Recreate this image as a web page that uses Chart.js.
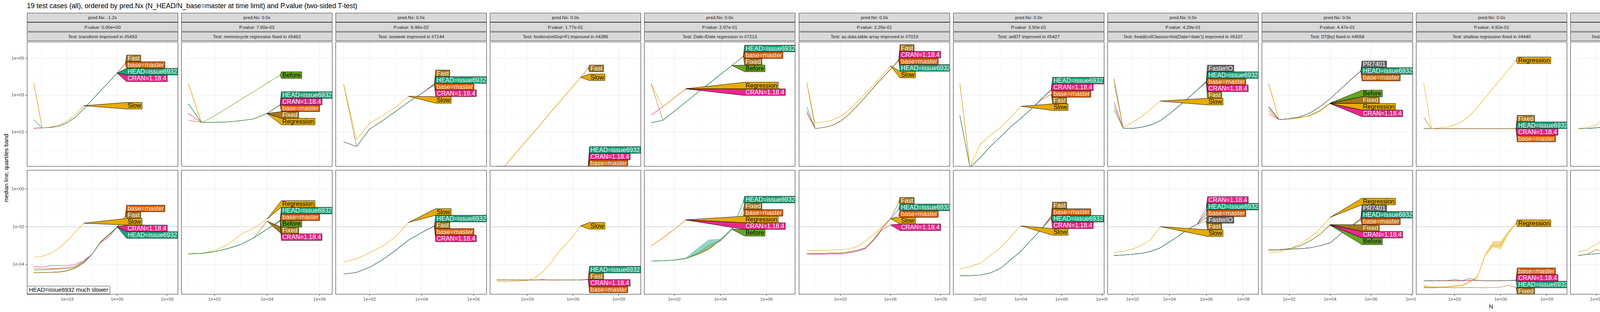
<!DOCTYPE html>
<html><head><meta charset="utf-8">
<script src="https://cdn.jsdelivr.net/npm/chart.js@4.4.1/dist/chart.umd.min.js"></script>
<style>
html,body{margin:0;padding:0;background:#fff;}
#root{position:relative;width:7600px;height:800px;overflow:hidden;font-family:"Liberation Sans",Arial,Helvetica,sans-serif;background:#fff;}
.strip{position:absolute;background:#D9D9D9;border:1px solid #333;box-sizing:border-box;color:#1A1A1A;font-size:11.7px;display:flex;align-items:center;justify-content:center;white-space:nowrap;overflow:hidden;}
.vs span{transform:rotate(90deg);white-space:nowrap;}
canvas{position:absolute;}
.txt{position:absolute;white-space:nowrap;}
</style></head><body><div id="root"></div><script>
// ---------------- DATA ----------------
const TITLE = "19 test cases (all), ordered by pred.Nx (N_HEAD/N_base=master at time limit) and P.value (two-sided T-test)";
const PRED_NX = ["-1.2x","0.0x","0.0x","0.0x","0.0x","0.0x","0.0x","0.0x","0.0x","0.0x","0.0x","0.0x","0.0x","0.0x","0.0x","0.0x","0.0x","0.0x","0.0x"];
const P_VALUE = ["0.00e+00","7.60e-03","8.46e-02","1.77e-01","2.97e-01","3.25e-01","3.50e-01","4.29e-01","4.47e-01","4.92e-01","5.66e-01","5.86e-01","6.41e-01","6.91e-01","8.41e-01","8.51e-01","8.52e-01","9.38e-01","9.51e-01"];
const TESTS = ["transform improved in #5493","memrecycle regression fixed in #5463","isoweek improved in #7144","forderv(retGrp=F) improved in #4386","Date-IDate regression in #7213","as.data.table.array improved in #7019","setDT improved in #5427","fread(colClasses=list(Date='date')) improved in #6107","DT[by] fixed in #4558","shallow regression fixed in #4440","fread(select=list(Date='date')) improved in #6107","DT[,.SD] improved in #4501","DT[by] max regression fixed in #7480","fread(colClasses=Date) improved in #6107","fwrite refactored in #5388","forderv(retGrp=T) improved in #4386","DT[by,verbose=TRUE] improved in #6296","fread disk overhead improved in #6925","melt improved in #5054"];
const UNITS = ["unit: kilobytes","unit: seconds"];
const Y_TITLE = "median line, quartiles band";
const X_TITLE = "N";
const NOTE = "HEAD=issue6932 much slower";
const XTICK_LABELS = [
 ["1e+03","1e+06","1e+09"],["1e+02","1e+04","1e+06"],["1e+02","1e+04","1e+06"],["1e+03","1e+06","1e+09"],
 ["1e+02","1e+04","1e+06"],["1e+03","1e+06","1e+09"],["1e+02","1e+04","1e+06","1e+08"],["1e+02","1e+04","1e+06","1e+08"],
 ["1e+02","1e+04","1e+06","1e+08"],["1e+03","1e+06","1e+09"],["1e+02","1e+04","1e+06","1e+08"],["1e+02","1e+04","1e+06","1e+08"],
 ["1e+02","1e+04","1e+06","1e+08"],["1e+02","1e+04","1e+06","1e+08"],["10","100","1000","10000"],["1e+03","1e+06","1e+09"],
 ["1e+02","1e+04","1e+06"],["10","100","1000"],["10","100","1000","10000"]];
const XLIM_LOG = [[0.59,9.66],[0.73,6.49],[0.69,6.51],[0.54,10.46],[0.69,7.25],[0.52,9.56],[0.67,8.1],[0.64,8.83],[0.66,8.04],[0.5,10.32],[0.55,8.94],[0.71,8.89],[0.64,8.87],[0.57,8.8],[0.83,4.12],[0.71,10.29],[0.72,6.41],[0.88,3.37],[0.83,4.13]];
const KB_YTICKS = ["1e+01","1e+03","1e+05"];
const SEC_YTICKS = ["1e-04","1e-02","1e+00"];
const KB_YLIM_LOG = [-0.863, 5.895];
const SEC_YLIM_LOG = [-5.59, 1.01];
const TIME_LIMIT = [0.01,0.01,0.01,0.01,0.01,0.01,0.01,0.01,0.01,0.01,0.01,0.01,1,0.01,0.01,0.01,0.01,0.01,0.01];

// Panel 1
const P01_N = [10,31.6,100,316,1000,3160,1e4,3.16e4,1e5,3.16e5,1e6,3.16e6];
const P01_SERIES = ["base=master","CRAN=1.18.4","Fast","HEAD=issue6932","Slow"];
const P01_KB = [
 [16.2,17,17.8,21,32,65,182,550,1700,5100,15900,51000],
 [16.2,17,17.8,21,32,65,182,550,1700,5100,15700],
 [4570,17,17.8,21,32,65,182,550,1700,5100,16000,52000],
 [48,17,17.8,21,32,65,182,550,1700,5100,15800],
 [4570,17,19,24.5,40.7,91,269]];
const P01_SEC = [
 [5.9e-5,5.9e-5,6.0e-5,6.3e-5,6.9e-5,8.3e-5,1.41e-4,3.47e-4,1.51e-3,3.72e-3,9.5e-3,3.72e-2],
 [7.8e-5,7.2e-5,8.7e-5,8.7e-5,8.7e-5,1.02e-4,1.58e-4,3.47e-4,1.45e-3,2.75e-3,1.03e-2],
 [3.7e-5,3.7e-5,3.8e-5,3.9e-5,4.6e-5,6.5e-5,1.23e-4,3.47e-4,1.58e-3,3.72e-3,9.3e-3,3.63e-2],
 [5.1e-5,5.1e-5,5.4e-5,5.75e-5,6.2e-5,7.2e-5,1.35e-4,3.47e-4,1.51e-3,3.72e-3,1.0e-2],
 [2.4e-4,2.7e-4,3.8e-4,7.1e-4,1.82e-3,5.2e-3,1.55e-2]];
// Panel 2
const P02_N = [10,31.6,100,316,1000,3160,1e4,3.16e4];
const P02_SERIES = ["base=master","CRAN=1.18.4","Fixed","Regression","Before","HEAD=issue6932"];
const P02_KB = [
 [43.7,34,34,35.5,41.7,52.5,102,295],
 [102,34,34,35.5,41.7,52.5,102,300],
 [4270,34,34,35.5,41.7,52.5,103],
 [4270,34,34,35.5,41.7,52.5,101],
 [347,31.6,76,209,575,1585,4470,12300],
 [347,34,34,35.5,41.7,52.5,102,309]];
const P02_SEC = [
 [3.7e-4,3.9e-4,4.8e-4,6.9e-4,1.15e-3,2.63e-3,7.4e-3,2.15e-2],
 [3.7e-4,3.9e-4,4.8e-4,6.9e-4,1.15e-3,2.63e-3,7.4e-3,1.95e-2],
 [3.7e-4,3.9e-4,4.8e-4,6.9e-4,1.15e-3,2.63e-3,2.0e-2],
 [3.47e-4,3.9e-4,5.6e-4,1.12e-3,3.98e-3,8.3e-3,2.57e-2],
 [3.7e-4,3.9e-4,4.8e-4,6.9e-4,1.15e-3,2.63e-3,7.4e-3,2.05e-2],
 [3.7e-4,3.9e-4,4.8e-4,6.9e-4,1.15e-3,2.63e-3,7.4e-3,2.2e-2]];
// Panel 3
const P03_N = [10,31.6,100,316,1000,3160,1e4,3.16e4];
const P03_SERIES = ["base=master","CRAN=1.18.4","Fast","HEAD=issue6932","Slow"];
const P03_KB = [
 [3.02,1.66,14.5,41.7,132,427,1230,3800],
 [3.02,1.66,14.5,41.7,132,427,1230,3630],
 [3980,1.66,14.5,41.7,132,427,1230,4270],
 [3.02,1.66,14.5,41.7,132,427,1230,3980],
 [3980,3.98,30.2,77.6,224,871]];
const P03_SEC = [
 [3.09e-5,3.8e-5,7.1e-5,1.78e-4,5.6e-4,1.95e-3,4.9e-3,1.1e-2],
 [3.09e-5,3.8e-5,7.1e-5,1.78e-4,5.6e-4,1.95e-3,4.9e-3,1.08e-2],
 [3.09e-5,3.8e-5,7.1e-5,1.78e-4,5.6e-4,1.95e-3,4.9e-3,1.12e-2],
 [3.09e-5,3.8e-5,7.1e-5,1.78e-4,5.6e-4,1.95e-3,4.9e-3,1.15e-2],
 [1.32e-4,2.0e-4,4.1e-4,9.3e-4,2.95e-3,1.7e-2]];
// Panel 4
const P04_N = [10,31.6,100,316,1000,3160,1e4,3.16e4,1e5,3.16e5,1e6,3.16e6,1e7];
const P04_SERIES = ["base=master","CRAN=1.18.4","HEAD=issue6932","Fast","Slow"];
const P04_KB = [
 [0.14,0.14,0.14,0.14,0.14,0.14,0.14,0.14,0.14,0.14,0.14,0.14,0.14],
 [0.141,0.141,0.141,0.141,0.141,0.141,0.141,0.141,0.141,0.141,0.141,0.141,0.141],
 [0.142,0.142,0.142,0.142,0.142,0.142,0.142,0.142,0.142,0.142,0.142,0.142,0.142],
 [0.047,0.141,0.427,1.29,3.89,11.7,36.3,110,331,1000,3020,9330,28200],
 [0.047,0.141,0.427,1.29,3.89,11.7,36.3,110,331,1000,3020,9330]];
const P04_SEC = [
 [1.5e-5,1.55e-5,1.5e-5,1.52e-5,1.5e-5,1.55e-5,1.5e-5,1.52e-5,1.5e-5,1.55e-5,1.5e-5,1.52e-5,1.56e-5],
 [1.52e-5,1.5e-5,1.55e-5,1.5e-5,1.52e-5,1.5e-5,1.55e-5,1.5e-5,1.52e-5,1.5e-5,1.55e-5,1.5e-5,1.58e-5],
 [1.55e-5,1.52e-5,1.5e-5,1.55e-5,1.5e-5,1.52e-5,1.6e-5,1.5e-5,1.55e-5,1.52e-5,1.5e-5,1.55e-5,1.62e-5],
 [1.5e-5,1.5e-5,1.52e-5,1.5e-5,1.55e-5,1.5e-5,1.52e-5,1.55e-5,1.5e-5,1.52e-5,1.55e-5,1.5e-5,1.6e-5],
 [1.26e-5,1.2e-5,1.26e-5,1.32e-5,1.41e-5,2.0e-5,3.98e-5,1.12e-4,3.98e-4,1.12e-3,3.16e-3,1.12e-2]];
// Panel 5
const P05_N = [10,31.6,100,316,1000,3160,1e4,3.16e4,1e5];
const P05_SERIES = ["CRAN=1.18.4","Regression","base=master","Fixed","Before","HEAD=issue6932"];
const P05_KB = [
 [85,234,724,2190],
 [3980,234,724,2240],
 [32.4,43.7,135,427,1350,4170,13200,40700,130000],
 [3980,43.7,135,427,1350,4170,13200,40700,129000],
 [32.4,43.7,135,427,1350,4170,13200,40700],
 [32.4,43.7,135,427,1350,4170,13200,40700,132000]];
const P05_SEC = [
 [9.8e-4,2.57e-3,7.4e-3,2.29e-2],
 [9.8e-4,2.57e-3,7.4e-3,2.34e-2],
 [1.51e-4,1.58e-4,1.7e-4,2.09e-4,3.31e-4,6.9e-4,1.95e-3,7.4e-3,3.98e-2],
 [1.51e-4,1.58e-4,1.7e-4,2.09e-4,3.31e-4,6.3e-4,1.95e-3,7.4e-3,7.4e-2],
 [1.51e-4,1.58e-4,1.7e-4,2.09e-4,3.55e-4,7.9e-4,1.78e-3,7.4e-3],
 [1.51e-4,1.58e-4,1.7e-4,2.09e-4,3.98e-4,1.0e-3,1.95e-3,7.4e-3,0.209]];
// Panel 6
const P06_N = [10,31.6,100,316,1000,3160,1e4,3.16e4,1e5,3.16e5,1e6,3.16e6];
const P06_SERIES = ["base=master","CRAN=1.18.4","HEAD=issue6932","Fast","Slow"];
const P06_KB = [
 [105,15.5,17.8,22.9,38,89,257,813,2630,8320,25100,77600],
 [135,15.5,17.8,22.9,38,89,257,813,2630,8320,25100,79400],
 [229,15.5,17.8,22.9,38,89,257,813,2630,8320,25100,75900],
 [4680,15.5,17.8,22.9,38,89,257,813,2630,8320,25100,83200],
 [4680,31.6,35.5,43.7,70.8,148,427,1260,3800,11500,38900]];
const P06_SEC = [
 [3.9e-4,3.9e-4,3.9e-4,3.98e-4,3.98e-4,4.6e-4,5.6e-4,7.6e-4,2.14e-3,8.3e-3,2.57e-2,3.9e-2],
 [3.47e-4,3.5e-4,3.5e-4,3.55e-4,3.55e-4,4.1e-4,5.0e-4,6.9e-4,1.9e-3,7.1e-3,1.26e-2],
 [3.9e-4,3.9e-4,3.9e-4,3.98e-4,3.98e-4,4.6e-4,5.6e-4,7.6e-4,2.14e-3,8.3e-3,2.57e-2,8.9e-2],
 [3.9e-4,3.9e-4,3.9e-4,3.98e-4,3.98e-4,4.6e-4,5.6e-4,7.6e-4,2.14e-3,8.3e-3,2.57e-2,0.209],
 [5.5e-4,5.6e-4,5.6e-4,5.75e-4,6.2e-4,6.6e-4,8.9e-4,1.74e-3,3.98e-3,1.0e-2,2.69e-2]];
// Panel 7
const P07_N = [10,31.6,100,316,1000,3160,1e4,3.16e4,1e5,3.16e5];
const P07_SERIES = ["base=master","CRAN=1.18.4","Fast","HEAD=issue6932","Slow"];
const P07_KB = [
 [79.4,0.126,0.407,1.66,5.62,19.5,56.2,174,617,1900],
 [79.4,0.126,0.407,1.66,5.62,19.5,56.2,174,617,2000],
 [4270,0.126,0.407,1.66,5.62,19.5,56.2,174,560,1120],
 [79.4,0.126,0.407,1.66,5.62,19.5,56.2,174,617,2090],
 [4270,0.126,2.14,6.76,17.8,63,251]];
const P07_SEC = [
 [2.51e-5,2.57e-5,2.75e-5,3.55e-5,6.3e-5,1.78e-4,5.0e-4,1.95e-3,7.4e-3,3.55e-2],
 [2.51e-5,2.57e-5,2.75e-5,3.55e-5,6.3e-5,1.78e-4,5.0e-4,1.95e-3,7.4e-3,2.82e-2],
 [2.51e-5,2.57e-5,2.75e-5,3.55e-5,6.3e-5,1.78e-4,5.0e-4,1.95e-3,7.4e-3,3.98e-2],
 [2.51e-5,2.57e-5,2.75e-5,3.55e-5,6.3e-5,1.78e-4,5.0e-4,1.95e-3,7.4e-3,3.16e-2],
 [5.75e-5,7.8e-5,1.17e-4,3.0e-4,7.6e-4,2.95e-3,1.12e-2]];
// Panel 8
const P08_N = [10,31.6,100,316,1000,3160,1e4,3.16e4,1e5,3.16e5,1e6];
const P08_SERIES = ["base=master","CRAN=1.18.4","Fast","FasterIO","HEAD=issue6932","Slow"];
const P08_KB = [
 [158,15.8,15.8,18.6,24.5,41.7,97.7,251,661,1905,5300],
 [427,15.8,15.8,18.6,24.5,41.7,97.7,251,661,1905,5100],
 [4270,15.8,15.8,18.6,24.5,41.7,97.7,251,661,1905,4900],
 [7590,15.8,15.8,18.6,24.5,41.7,97.7,251,661,1905,5750],
 [251,15.8,15.8,18.6,24.5,41.7,97.7,251,661,1905,5500],
 [4270,17.8,33.9,70.8,182,479]];
const P08_SEC = [
 [3.0e-4,3.16e-4,3.47e-4,3.9e-4,5.0e-4,7.6e-4,1.58e-3,3.24e-3,7.4e-3,1.38e-2,4.5e-2],
 [3.0e-4,3.16e-4,3.47e-4,3.9e-4,5.0e-4,7.6e-4,1.58e-3,3.24e-3,7.4e-3,1.38e-2,0.1],
 [3.0e-4,3.16e-4,3.47e-4,3.9e-4,5.0e-4,7.6e-4,1.58e-3,3.24e-3,7.4e-3,1.38e-2,2.0e-2],
 [3.0e-4,3.16e-4,3.47e-4,3.9e-4,5.0e-4,7.6e-4,1.58e-3,3.24e-3,7.4e-3,1.38e-2,3.16e-2],
 [3.0e-4,3.16e-4,3.47e-4,3.9e-4,5.0e-4,7.6e-4,1.58e-3,3.24e-3,7.4e-3,1.38e-2,6.3e-2],
 [4.3e-4,5.0e-4,6.5e-4,1.05e-3,2.14e-3,1.02e-2]];
// Panel 9
const P09_N = [10,31.6,100,316,1000,3160,1e4,3.16e4,1e5,3.16e5];
const P09_SERIES = ["CRAN=1.18.4","Fixed","Before","Regression","base=master","HEAD=issue6932","PR7401"];
const P09_KB = [
 [95.5,47.9,51.3,60.3,79.4,148,347],
 [4270,47.9,51.3,60.3,79.4,148,363],
 [200,47.9,51.3,60.3,79.4,148,372],
 [4270,47.9,51.3,60.3,75.9,132,355],
 [141,47.9,53.7,66,107,234,646,2090,6760,20000],
 [240,47.9,53.7,66,107,234,646,2090,6760,20400],
 [240,47.9,53.7,66,107,234,646,2090,6760,20900]];
const P09_SEC = [
 [5.6e-4,5.75e-4,6.9e-4,9.3e-4,1.74e-3,3.98e-3,1.26e-2],
 [5.6e-4,5.75e-4,6.9e-4,9.3e-4,1.74e-3,3.98e-3,1.3e-2],
 [5.6e-4,5.75e-4,6.9e-4,9.3e-4,1.74e-3,3.98e-3,1.22e-2],
 [4.3e-4,4.6e-4,6.5e-4,1.15e-3,2.57e-3,7.4e-3,3.16e-2],
 [6.3e-4,6.3e-4,6.5e-4,6.9e-4,7.6e-4,9.8e-4,1.41e-3,3.98e-3,1.02e-2,2.24e-2],
 [6.3e-4,6.3e-4,6.5e-4,6.9e-4,7.6e-4,9.8e-4,1.41e-3,3.98e-3,1.02e-2,2.51e-2],
 [6.3e-4,6.3e-4,6.5e-4,6.9e-4,7.6e-4,9.8e-4,1.41e-3,3.98e-3,1.02e-2,2.82e-2]];
// Panel 10
const P10_N = [10,31.6,100,316,1000,3160,1e4,3.16e4,1e5,3.16e5,1e6,3.16e6,1e7];
const P10_SERIES = ["base=master","CRAN=1.18.4","HEAD=issue6932","Fixed","Regression"];
const P10_KB = [
 [15.5,15.5,15.5,15.5,15.5,15.5,15.5,15.5,15.5,15.5,15.5,15.5,15.3],
 [15.5,15.5,15.5,15.5,15.5,15.5,15.5,15.5,15.5,15.5,15.5,15.5,15.4],
 [15.5,15.5,15.5,15.5,15.5,15.5,15.5,15.5,15.5,15.5,15.5,15.5,15.6],
 [63,15.5,15.5,15.5,15.5,15.5,15.5,15.5,15.5,15.5,15.5,15.5,15.8],
 [4270,15.5,17,18.6,24.5,37.2,79.4,229,724,2340,7410,24000,77600]];
const P10_SEC = [
 [1.35e-5,1.38e-5,1.35e-5,1.4e-5,1.35e-5,1.38e-5,1.45e-5,1.4e-5,1.35e-5,1.38e-5,1.4e-5,1.42e-5,1.5e-5],
 [1.38e-5,1.35e-5,1.4e-5,1.35e-5,1.38e-5,1.35e-5,1.4e-5,1.45e-5,1.38e-5,1.35e-5,1.38e-5,1.4e-5,1.45e-5],
 [1.35e-5,1.4e-5,1.35e-5,1.38e-5,1.6e-5,1.4e-5,1.8e-5,1.45e-5,1.35e-5,1.38e-5,1.35e-5,1.38e-5,1.4e-5],
 [5.9e-6,5.8e-6,5.9e-6,6.0e-6,5.8e-6,5.9e-6,6.0e-6,5.9e-6,5.8e-6,6.0e-6,6.3e-6,7.9e-6,6.0e-6],
 [6.5e-6,6.2e-6,6.3e-6,6.5e-6,7.2e-6,7.9e-6,1.2e-5,2.24e-5,3.3e-4,1.05e-3,1.0e-3,4.9e-3,1.55e-2]];
// Panel 11
const P11_N = [10,31.6,100,316,1000,3160,1e4,3.16e4,1e5,3.16e5,1e6];
const P11_SERIES = ["base=master","CRAN=1.18.4","Fast","FasterIO","HEAD=issue6932","Slow"];
const P11_KB = [
 [15.5,15.8,17,20,30.2,63,182,661,2340,7590,22900],
 [15.5,15.8,17,20,30.2,63,182,661,2340,7590,24000],
 [15.5,15.8,17,20,30.2,63,182,661,2340,7590,21900],
 [15.5,15.8,17,20,30.2,63,182,661,2340,7590,25100],
 [15.5,15.8,17,20,30.2,63,182,661,2340,7590,26300],
 [15.8,17.8,24.5,63,204,513]];
const P11_SEC = [
 [3.0e-4,3.47e-4,6.2e-4,4.3e-4,6.2e-4,1.15e-3,2.63e-3,6.0e-3,1.26e-2,2.57e-2,5.0e-2],
 [3.0e-4,3.47e-4,3.7e-4,4.3e-4,6.2e-4,1.15e-3,2.63e-3,6.0e-3,1.26e-2,2.57e-2,6.3e-2],
 [3.0e-4,3.47e-4,3.7e-4,4.3e-4,6.2e-4,1.15e-3,2.63e-3,6.0e-3,1.26e-2,2.57e-2,5.6e-2],
 [3.0e-4,3.47e-4,3.7e-4,4.3e-4,6.2e-4,1.15e-3,2.63e-3,6.0e-3,1.26e-2,2.57e-2,4.0e-2],
 [3.0e-4,3.47e-4,3.7e-4,4.3e-4,6.2e-4,1.15e-3,2.63e-3,6.0e-3,1.26e-2,2.57e-2,4.5e-2],
 [4.6e-4,6.2e-4,1.15e-3,2.63e-3,6.0e-3,1.12e-2]];
// Panel 12
const P12_N = [14,31.6,100,316,1000,3160,1e4,3.16e4,1e5,3.16e5,1e6];
const P12_SERIES = ["base=master","CRAN=1.18.4","Fast","HEAD=issue6932","Slow","Slower"];
const P12_KB = [
 [53.7,51.3,47.9,47.9,53.7,66,97.7,166,309,1000,3160],
 [53.7,51.3,47.9,47.9,53.7,66,97.7,166,309,1000,3550],
 [4270,51.3,47.9,47.9,53.7,66,97.7,166,309,1000,4170],
 [166,51.3,47.9,47.9,53.7,66,97.7,166,309,1000,3800],
 [4270,51.3,47.9,47.9,53.7,66,97.7,166,309,891],
 [166,51.3,51.3,56.2,70.8,110,182,398]];
const P12_SEC = [
 [3.7e-4,3.7e-4,3.7e-4,3.8e-4,3.98e-4,4.6e-4,6.5e-4,1.15e-3,3.98e-3,1.38e-2,5.9e-2],
 [3.7e-4,3.7e-4,3.7e-4,3.8e-4,3.98e-4,4.6e-4,6.5e-4,1.15e-3,3.98e-3,1.38e-2,3.9e-2],
 [3.7e-4,3.7e-4,3.7e-4,3.8e-4,3.98e-4,4.6e-4,6.5e-4,1.15e-3,3.98e-3,1.38e-2,2.5e-2],
 [3.7e-4,3.7e-4,3.7e-4,3.8e-4,3.98e-4,4.6e-4,6.5e-4,1.15e-3,3.98e-3,1.38e-2,8.9e-2],
 [3.16e-4,3.16e-4,3.16e-4,3.3e-4,3.55e-4,3.9e-4,5.6e-4,1.15e-3,3.24e-3,1.55e-2],
 [4.8e-4,5.0e-4,5.0e-4,6.2e-4,1.05e-3,2.14e-3,4.9e-3,1.02e-2]];
// Panel 13
const P13_N = [10,31.6,100,316,1000,3160,1e4,3.16e4,1e5,3.16e5,1e6];
const P13_SERIES = ["Fixed","Before","base=master","HEAD=issue6932","CRAN=1.18.4","Regression"];
const P13_KB = [
 [4270,66,97.7,182,427,1230,3240,9330,24000,69200,200000],
 [53.7,66,97.7,182,427,1230,3240,9330,24000,69200,251000],
 [53.7,66,97.7,182,427,1230,3240,9330,24000,69200,398000],
 [53.7,66,97.7,182,427,1230,3240,9330,24000,69200,427000],
 [53.7,66,97.7,182,427,1230,3240,9330,24000,69200,457000],
 [4270,63,87,148,309,813,2090,12300]];
const P13_SEC = [
 [5.4e-4,5.6e-4,6.2e-4,8.5e-4,1.58e-3,3.98e-3,1.26e-2,3.9e-2,0.123,0.389,2.24],
 [5.4e-4,5.6e-4,6.2e-4,8.5e-4,1.58e-3,3.98e-3,1.26e-2,3.9e-2,0.123,0.389,1.26],
 [5.4e-4,5.6e-4,6.2e-4,8.5e-4,1.58e-3,3.98e-3,1.26e-2,3.9e-2,0.123,0.389,3.16],
 [5.4e-4,5.6e-4,6.2e-4,8.5e-4,1.58e-3,3.98e-3,1.26e-2,3.9e-2,0.123,0.389,1.78],
 [5.4e-4,5.6e-4,6.2e-4,8.5e-4,1.58e-3,3.98e-3,1.26e-2,3.9e-2,0.123,0.389,1.0],
 [5.6e-4,6.2e-4,7.6e-4,1.41e-3,3.98e-3,2.57e-2,0.209,5.75]];
// Panel 14
const P14_N = [10,31.6,100,316,1000,3160,1e4,3.16e4,1e5,3.16e5,1e6];
const P14_SERIES = ["base=master","CRAN=1.18.4","Fast","FasterIO","HEAD=issue6932","Slow"];
const P14_KB = [
 [15.8,16.2,17.4,20.4,30.9,64.6,186,676,2400,7760,22400],
 [15.8,16.2,17.4,20.4,30.9,64.6,186,676,2400,7760,23400],
 [15.8,16.2,17.4,20.4,30.9,64.6,186,676,2400,7760,21400],
 [15.8,16.2,17.4,20.4,30.9,64.6,186,676,2400,7760,24500],
 [15.8,16.2,17.4,20.4,30.9,64.6,186,676,2400,7760,25700],
 [16.2,18.2,25.1,64.6,209,525]];
const P14_SEC = [
 [2.95e-4,3.39e-4,3.63e-4,4.27e-4,6.03e-4,1.12e-3,2.57e-3,5.89e-3,1.23e-2,2.51e-2,4.9e-2],
 [2.95e-4,3.39e-4,3.63e-4,4.27e-4,6.03e-4,1.12e-3,2.57e-3,5.89e-3,1.23e-2,2.51e-2,6.2e-2],
 [2.95e-4,3.39e-4,3.63e-4,4.27e-4,6.03e-4,1.12e-3,2.57e-3,5.89e-3,1.23e-2,2.51e-2,5.5e-2],
 [2.95e-4,3.39e-4,3.63e-4,4.27e-4,6.03e-4,1.12e-3,2.57e-3,5.89e-3,1.23e-2,2.51e-2,3.9e-2],
 [2.95e-4,3.39e-4,3.63e-4,4.27e-4,6.03e-4,1.12e-3,2.57e-3,5.89e-3,1.23e-2,2.51e-2,4.4e-2],
 [4.7e-4,6.3e-4,1.17e-3,2.69e-3,6.17e-3,1.15e-2]];
// Panel 15
const P15_N = [10,31.6,100,316,1000];
const P15_SERIES = ["Before","CRAN=1.18.4","base=master","HEAD=issue6932","PR"];
const P15_KB = [
 [4270,0.14,0.14,0.14,0.14],
 [0.69,0.69,0.69,0.69,0.685],
 [0.69,0.69,0.69,0.69,0.69],
 [148,0.69,0.69,0.69,0.695],
 [0.69,0.69,0.69,0.69,0.70]];
const P15_SEC = [
 [2.45e-4,3.8e-4,1.02e-3,3.9e-3,1.45e-2],
 [3.0e-4,3.9e-4,1.05e-3,3.98e-3,1.58e-2],
 [3.0e-4,3.9e-4,1.05e-3,3.98e-3,1.82e-2],
 [3.0e-4,3.9e-4,1.05e-3,3.98e-3,2.0e-2],
 [3.0e-4,3.9e-4,1.05e-3,3.98e-3,1.7e-2]];
// Panel 16
const P16_N = [10,31.6,100,316,1000,3160,1e4,3.16e4,1e5,3.16e5,1e6,3.16e6,1e7];
const P16_SERIES = ["base=master","CRAN=1.18.4","HEAD=issue6932","Fast","Slow"];
const P16_KB = [
 [0.14,0.14,0.14,0.14,0.14,0.14,0.14,0.14,0.14,0.14,0.14,0.14,0.14],
 [0.141,0.141,0.141,0.141,0.141,0.141,0.141,0.141,0.141,0.141,0.141,0.141,0.141],
 [0.142,0.142,0.142,0.142,0.142,0.142,0.142,0.142,0.142,0.142,0.142,0.142,0.142],
 [0.047,0.148,0.457,1.45,4.57,14.1,44.7,138,437,1350,4270,13200,39800],
 [0.047,0.148,0.457,1.45,4.57,14.1,44.7,138,437,1350,4270,13200]];
const P16_SEC = [
 [1.5e-5,1.52e-5,1.55e-5,1.5e-5,1.52e-5,1.5e-5,1.55e-5,1.5e-5,1.52e-5,1.55e-5,1.5e-5,1.52e-5,1.58e-5],
 [1.52e-5,1.5e-5,1.52e-5,1.55e-5,1.5e-5,1.52e-5,1.5e-5,1.55e-5,1.5e-5,1.52e-5,1.55e-5,1.5e-5,1.6e-5],
 [1.55e-5,1.5e-5,1.5e-5,1.52e-5,1.55e-5,1.5e-5,1.52e-5,1.5e-5,1.55e-5,1.5e-5,1.52e-5,1.5e-5,1.56e-5],
 [1.5e-5,1.55e-5,1.52e-5,1.5e-5,1.5e-5,1.55e-5,1.52e-5,1.52e-5,1.5e-5,1.55e-5,1.5e-5,1.55e-5,1.62e-5],
 [1.55e-5,1.48e-5,1.51e-5,1.58e-5,1.78e-5,6.3e-5,1.58e-4,3.55e-4,7.9e-4,2.24e-3,6.3e-3,1.55e-2]];
// Panel 17
const P17_N = [10,31.6,100,316,1000,3160,1e4,3.16e4];
const P17_SERIES = ["base=master","CRAN=1.18.4","HEAD=issue6932","Fast","Slow"];
const P17_KB = [
 [57.5,32.4,34.7,45.7,70.8,120,251,692],
 [57.5,32.4,34.7,45.7,70.8,120,251,631],
 [57.5,32.4,34.7,45.7,70.8,120,251,759],
 [4270,32.4,34.7,45.7,70.8,120,251,891],
 [4270,33.9,37.2,51.3,87,102]];
const P17_SEC = [
 [1.05e-3,1.1e-3,1.2e-3,1.58e-3,2.63e-3,6.0e-3,1.7e-2,5.6e-2],
 [1.05e-3,1.1e-3,1.2e-3,1.58e-3,2.63e-3,6.0e-3,1.7e-2,4.0e-2],
 [1.05e-3,1.1e-3,1.2e-3,1.58e-3,2.63e-3,6.0e-3,1.7e-2,4.5e-2],
 [1.05e-3,1.1e-3,1.2e-3,1.58e-3,2.63e-3,6.0e-3,1.7e-2,5.0e-2],
 [1.15e-3,1.2e-3,1.41e-3,2.14e-3,3.98e-3,1.02e-2]];
// Panel 18
const P18_N = [10,31.6,100,316];
const P18_SERIES = ["base=master","CRAN=1.18.4","Fast","HEAD=issue6932","Slow"];
const P18_KB = [
 [17.8,57.5,182,550],
 [17.8,57.5,182,555],
 [17.8,57.5,182,562],
 [17.8,57.5,182,575],
 [4270,57.5,182,570]];
const P18_SEC = [
 [3.7e-4,9.3e-4,2.95e-3,1.13e-2],
 [3.7e-4,9.3e-4,2.95e-3,1.1e-2],
 [3.7e-4,9.3e-4,2.95e-3,1.07e-2],
 [3.7e-4,9.3e-4,2.95e-3,1.16e-2],
 [3.8e-4,9.5e-4,3.0e-3,1.2e-2]];
// Panel 19
const P19_N = [10,31.6,100,316,1000];
const P19_SERIES = ["base=master","CRAN=1.18.4","HEAD=issue6932","Fast","Slow"];
const P19_KB = [
 [51.3,33.9,288,2450,20000],
 [51.3,33.9,288,2450,20400],
 [51.3,33.9,288,2450,20900],
 [4270,33.9,288,2450,21400],
 [4270,33.9,288,2450,21900]];
const P19_SEC = [
 [7.1e-5,1.78e-4,6.3e-4,5.0e-3,4.8e-2],
 [7.1e-5,1.78e-4,6.3e-4,5.0e-3,5.25e-2],
 [7.1e-5,1.78e-4,6.3e-4,5.0e-3,5.0e-2],
 [7.1e-5,1.78e-4,6.3e-4,5.0e-3,5.6e-2],
 [1.0e-4,2.51e-4,9.3e-4,7.9e-3,7.8e-2]];

// quartile bands (lower / upper) for a few series where they are visible
const BAND_P01_SEC_FAST_LO = [3.5e-5,3.5e-5,3.6e-5,3.7e-5,4.3e-5,6.0e-5,1.15e-4,3.2e-4,1.45e-3,3.3e-3,8.5e-3,3.3e-2];
const BAND_P01_SEC_FAST_HI = [4.0e-5,4.0e-5,4.1e-5,4.3e-5,5.2e-5,7.2e-5,1.3e-4,3.7e-4,1.75e-3,4.4e-3,1.0e-2,3.9e-2];
const BAND_P05_SEC_HEAD_LO = [1.45e-4,1.52e-4,1.62e-4,1.95e-4,3.3e-4,6.9e-4,1.78e-3,6.9e-3,0.19];
const BAND_P05_SEC_HEAD_HI = [1.58e-4,1.66e-4,1.8e-4,2.3e-4,7.4e-4,2.1e-3,2.3e-3,8.7e-3,0.23];
const BAND_P10_SEC_REG_LO = [5.6e-6,5.6e-6,5.8e-6,6.0e-6,6.6e-6,7.2e-6,1.1e-5,2.0e-5,2.8e-4,8.5e-4,6.3e-4,4.0e-3,1.45e-2];
const BAND_P10_SEC_REG_HI = [8.5e-6,7.0e-6,6.8e-6,7.0e-6,7.8e-6,8.6e-6,1.3e-5,2.5e-5,3.8e-4,1.7e-3,1.75e-3,6.0e-3,1.65e-2];
const BANDS = [
 [0,1,"Fast",BAND_P01_SEC_FAST_LO,BAND_P01_SEC_FAST_HI],
 [4,1,"HEAD=issue6932",BAND_P05_SEC_HEAD_LO,BAND_P05_SEC_HEAD_HI],
 [9,1,"Regression",BAND_P10_SEC_REG_LO,BAND_P10_SEC_REG_HI]];

const SERIES_COLORS = {"HEAD=issue6932":"#1B9E77","base=master":"#D95F02","CRAN=1.18.4":"#E7298A","Fast":"#A6761D","Slow":"#E6AB02","Before":"#66A61E","Fixed":"#A6761D","Regression":"#E6AB02","PR7401":"#666666","FasterIO":"#666666","Slower":"#666666","PR":"#666666"};
const DARK_TEXT = ["Slow","Regression","Before"];

// ---------------- LAYOUT / STYLE ----------------
const FONT = '"Liberation Sans", Arial, Helvetica, sans-serif';
const PANEL_X0 = 69, PANEL_PITCH = 395.1, PANEL_W = 387;
const ROW_TOP = [107, 436], ROW_H = [320, 319];
const GRID = "#EBEBEB";
const LABEL_FONT = "16px " + FONT;
const LABEL_H = 17;

const PANEL_DATA = [
 [P01_N,P01_SERIES,P01_KB,P01_SEC],[P02_N,P02_SERIES,P02_KB,P02_SEC],[P03_N,P03_SERIES,P03_KB,P03_SEC],
 [P04_N,P04_SERIES,P04_KB,P04_SEC],[P05_N,P05_SERIES,P05_KB,P05_SEC],[P06_N,P06_SERIES,P06_KB,P06_SEC],
 [P07_N,P07_SERIES,P07_KB,P07_SEC],[P08_N,P08_SERIES,P08_KB,P08_SEC],[P09_N,P09_SERIES,P09_KB,P09_SEC],
 [P10_N,P10_SERIES,P10_KB,P10_SEC],[P11_N,P11_SERIES,P11_KB,P11_SEC],[P12_N,P12_SERIES,P12_KB,P12_SEC],
 [P13_N,P13_SERIES,P13_KB,P13_SEC],[P14_N,P14_SERIES,P14_KB,P14_SEC],[P15_N,P15_SERIES,P15_KB,P15_SEC],
 [P16_N,P16_SERIES,P16_KB,P16_SEC],[P17_N,P17_SERIES,P17_KB,P17_SEC],[P18_N,P18_SERIES,P18_KB,P18_SEC],
 [P19_N,P19_SERIES,P19_KB,P19_SEC]];

const root = document.getElementById('root');
function addDiv(cls, text, css) {
  const d = document.createElement('div');
  if (cls) d.className = cls;
  if (text !== null) { const s = document.createElement('span'); s.textContent = text; d.appendChild(s); }
  Object.assign(d.style, css);
  root.appendChild(d);
  return d;
}
// title & axis titles
addDiv('txt', TITLE, {left:'69px', top:'5px', fontSize:'17.6px', lineHeight:'20px', color:'#000'});
addDiv('txt', Y_TITLE, {left:'15.5px', top:'431px', fontSize:'14.67px', lineHeight:'16px', color:'#000', transform:'translate(-50%,-50%) rotate(-90deg)'});
addDiv('txt', X_TITLE, {left:'3817px', top:'786px', fontSize:'14.67px', lineHeight:'16px', color:'#000', transform:'translate(-50%,-50%)'});

// strips
const STRIP_TOPS = [33, 57.4, 81.8], STRIP_H = 23.6;
for (let p = 0; p < 19; p++) {
  const left = Math.round(PANEL_X0 + p * PANEL_PITCH);
  const texts = ["pred.Nx: " + PRED_NX[p], "P.value: " + P_VALUE[p], "Test: " + TESTS[p]];
  texts.forEach((t, k) => addDiv('strip', t, {left: left + 'px', top: STRIP_TOPS[k] + 'px', width: PANEL_W + 'px', height: STRIP_H + 'px'}));
}
const RS_LEFT = Math.round(PANEL_X0 + 18 * PANEL_PITCH) + PANEL_W + 1;
UNITS.forEach((u, r) => addDiv('strip vs', u, {left: RS_LEFT + 'px', top: ROW_TOP[r] + 'px', width: '24px', height: ROW_H[r] + 'px'}));

// ---------------- CHARTS ----------------
function makeTicks(labels, lim) {
  const maj = labels.map(Number);
  const lg = maj.map(v => Math.log10(v));
  const step = lg[1] - lg[0];
  const out = maj.map((v, i) => ({value: v, _major: true, _lab: labels[i]}));
  const mins = lg.map(l => l - step / 2).concat([lg[lg.length - 1] + step / 2]);
  mins.forEach(m => { if (m > lim[0] && m < lim[1]) out.push({value: Math.pow(10, m), _major: false, _lab: ''}); });
  out.sort((a, b) => a.value - b.value);
  return out;
}

function resolveLabels(items, top, bottom, h) {
  items.sort((a, b) => (a.cy - b.cy) || (a.order - b.order));
  const clusters = [];
  for (const it of items) {
    clusters.push({items: [it], sum: it.cy});
    while (clusters.length > 1) {
      const b = clusters[clusters.length - 1], a = clusters[clusters.length - 2];
      const aTop = a.sum / a.items.length - a.items.length * h / 2;
      const bTop = b.sum / b.items.length - b.items.length * h / 2;
      if (aTop + a.items.length * h > bTop) { a.items = a.items.concat(b.items); a.sum += b.sum; clusters.pop(); }
      else break;
    }
  }
  const ys = [];
  clusters.forEach(c => { const t = c.sum / c.items.length - c.items.length * h / 2; c.items.forEach((it, k) => ys.push(t + k * h)); });
  const n = ys.length;
  for (let i = 0; i < n; i++) ys[i] = Math.max(ys[i], i === 0 ? top : ys[i - 1] + h);
  for (let i = n - 1; i >= 0; i--) ys[i] = Math.min(ys[i], i === n - 1 ? bottom - h : ys[i + 1] - h);
  for (let i = 0; i < n; i++) ys[i] = Math.max(ys[i], i === 0 ? top : ys[i - 1] + h);
  items.forEach((it, i) => it.y = ys[i]);
  return items;
}

function buildChart(p, r) {
  const [N, names, kb, sec] = PANEL_DATA[p];
  const vals = r === 0 ? kb : sec;
  const firstCol = p === 0, bottom = r === 1;
  const AX_W = firstCol ? 69 : 0, AX_H = bottom ? 26 : 0, M = 8;
  const left = Math.round(PANEL_X0 + p * PANEL_PITCH);
  const W = PANEL_W + AX_W + 2 * M, H = ROW_H[r] + AX_H;
  const cv = document.createElement('canvas');
  cv.width = W; cv.height = H;
  Object.assign(cv.style, {left: (left - AX_W - M) + 'px', top: ROW_TOP[r] + 'px', width: W + 'px', height: H + 'px'});
  root.appendChild(cv);

  const xl = XLIM_LOG[p];
  const yl = r === 0 ? KB_YLIM_LOG : SEC_YLIM_LOG;
  const xTicks = makeTicks(XTICK_LABELS[p], xl);
  const yTicks = makeTicks(r === 0 ? KB_YTICKS : SEC_YTICKS, yl);

  const datasets = names.map((nm, i) => ({
    label: nm,
    data: vals[i].map((y, k) => ({x: N[k], y: y})),
    borderColor: SERIES_COLORS[nm], backgroundColor: SERIES_COLORS[nm],
    borderWidth: 1.1, pointRadius: 0, tension: 0, fill: false,
    borderJoinStyle: 'round', order: names.length - i
  }));
  const bands = BANDS.filter(b => b[0] === p && b[1] === r);

  const decor = {
    id: 'decor' + p + '_' + r,
    beforeDatasetsDraw(chart) {
      const {ctx, chartArea: a, scales: {x: xs, y: ys}} = chart;
      ctx.save();
      ctx.beginPath(); ctx.rect(a.left, a.top, a.right - a.left, a.bottom - a.top); ctx.clip();
      if (r === 1) {
        const yy = Math.round(ys.getPixelForValue(TIME_LIMIT[p])) + 0.5;
        ctx.strokeStyle = '#BEBEBE'; ctx.lineWidth = 1.1;
        ctx.beginPath(); ctx.moveTo(a.left, yy); ctx.lineTo(a.right, yy); ctx.stroke();
      }
      bands.forEach(b => {
        const lo = b[3], hi = b[4];
        ctx.beginPath();
        lo.forEach((v, k) => { const px = xs.getPixelForValue(N[k]), py = ys.getPixelForValue(v); k ? ctx.lineTo(px, py) : ctx.moveTo(px, py); });
        for (let k = hi.length - 1; k >= 0; k--) ctx.lineTo(xs.getPixelForValue(N[k]), ys.getPixelForValue(hi[k]));
        ctx.closePath();
        ctx.globalAlpha = 0.45; ctx.fillStyle = SERIES_COLORS[b[2]]; ctx.fill(); ctx.globalAlpha = 1;
      });
      ctx.restore();
    },
    afterDatasetsDraw(chart) {
      const {ctx, chartArea: a, scales: {x: xs, y: ys}} = chart;
      ctx.save();
      ctx.font = LABEL_FONT;
      let items = names.map((nm, i) => {
        const v = vals[i], k = v.length - 1;
        const px = xs.getPixelForValue(N[k]), py = ys.getPixelForValue(v[k]);
        return {name: nm, order: i, px, py, cy: Math.min(Math.max(py, a.top), a.bottom), w: ctx.measureText(nm).width + 5};
      });
      const boxX = Math.max.apply(null, items.map(it => it.px)) + 3;
      items = resolveLabels(items, a.top, a.bottom, LABEL_H);
      ctx.beginPath(); ctx.rect(a.left, a.top, a.right - a.left, a.bottom - a.top); ctx.clip();
      items.forEach(it => {
        const t = it.y, bt = it.y + LABEL_H;
        ctx.beginPath();
        ctx.moveTo(it.px, it.py);
        ctx.lineTo(boxX, t); ctx.lineTo(boxX + it.w, t); ctx.lineTo(boxX + it.w, bt); ctx.lineTo(boxX, bt);
        ctx.closePath();
        ctx.fillStyle = SERIES_COLORS[it.name]; ctx.fill();
        ctx.strokeStyle = '#000'; ctx.lineWidth = 0.9; ctx.lineJoin = 'miter'; ctx.stroke();
        ctx.fillStyle = DARK_TEXT.indexOf(it.name) >= 0 ? '#000' : '#fff';
        ctx.textBaseline = 'middle'; ctx.textAlign = 'left';
        ctx.fillText(it.name, boxX + 2.5, t + LABEL_H / 2 + 1);
      });
      ctx.restore();
    },
    afterDraw(chart) {
      const {ctx, chartArea: a} = chart;
      ctx.save();
      ctx.strokeStyle = '#333333'; ctx.lineWidth = 1.1;
      ctx.strokeRect(Math.round(a.left) + 0.5, Math.round(a.top) + 0.5, Math.round(a.right - a.left) - 1, Math.round(a.bottom - a.top) - 1);
      ctx.restore();
    }
  };

  const tickFont = {family: FONT, size: 11.7};
  new Chart(cv, {
    type: 'line',
    data: {datasets},
    options: {
      responsive: false, animation: false, devicePixelRatio: 1, normalized: true,
      layout: {padding: {left: M, right: M, top: 0, bottom: 0}},
      plugins: {legend: {display: false}, tooltip: {enabled: false}},
      events: [],
      scales: {
        x: {
          type: 'logarithmic', position: 'bottom', min: Math.pow(10, xl[0]), max: Math.pow(10, xl[1]),
          afterBuildTicks: s => { s.ticks = xTicks.map(t => Object.assign({}, t)); },
          afterFit: s => { s.height = AX_H; s.paddingLeft = 0; s.paddingRight = 0; s.paddingTop = 0; s.paddingBottom = 0; },
          ticks: {display: bottom, autoSkip: false, maxRotation: 0, minRotation: 0, padding: 2, color: '#4D4D4D', font: tickFont,
                  callback: (v, i, ts) => (ts[i] && ts[i]._lab) || ''},
          grid: {color: GRID, lineWidth: c => (c.tick && c.tick._major) ? 1.1 : 0.55, drawTicks: bottom, tickLength: 4,
                 tickColor: c => (c.tick && c.tick._major) ? '#333333' : 'rgba(0,0,0,0)', tickWidth: 1},
          border: {display: false}
        },
        y: {
          type: 'logarithmic', position: 'left', min: Math.pow(10, yl[0]), max: Math.pow(10, yl[1]),
          afterBuildTicks: s => { s.ticks = yTicks.map(t => Object.assign({}, t)); },
          afterFit: s => { s.width = AX_W; s.paddingTop = 0; s.paddingBottom = 0; s.paddingLeft = 0; s.paddingRight = 0; },
          ticks: {display: firstCol, autoSkip: false, padding: 3, color: '#4D4D4D', font: tickFont,
                  callback: (v, i, ts) => (ts[i] && ts[i]._lab) || ''},
          grid: {color: GRID, lineWidth: c => (c.tick && c.tick._major) ? 1.1 : 0.55, drawTicks: firstCol, tickLength: 4,
                 tickColor: c => (c.tick && c.tick._major) ? '#333333' : 'rgba(0,0,0,0)', tickWidth: 1},
          border: {display: false}
        }
      }
    },
    plugins: [decor]
  });
}

for (let p = 0; p < 19; p++) { buildChart(p, 0); buildChart(p, 1); }

// annotation in first seconds panel
addDiv('txt', NOTE, {left: '69px', top: '733px', height: '21px', boxSizing: 'border-box', padding: '0 4px', fontSize: '14.7px', lineHeight: '19px',
  background: '#fff', border: '1px solid #444', borderRadius: '3px', color: '#000'});
</script></body></html>
